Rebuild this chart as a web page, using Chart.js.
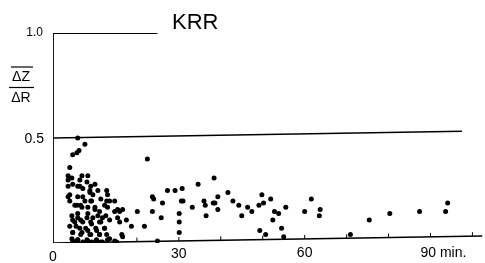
<!DOCTYPE html>
<html><head><meta charset="utf-8">
<script src="https://cdn.jsdelivr.net/npm/chart.js@4.4.0/dist/chart.umd.min.js"></script>
<style>html,body{margin:0;padding:0;background:#fff}#wrap{width:485px;height:263px}</style>
</head><body><div id="wrap"><canvas id="c" width="485" height="263"></canvas></div>
<script>
// scatter observations: time (min) and ΔZ/ΔR
const timeMin = [5.9,7.6,6.2,5.7,4.7,4.0,3.6,4.5,6.9,8.3,5.9,8.1,3.6,8.8,10.0,12.8,13.0,12.8,14.7,22.5,27.3,23.7,26.1,13.0,15.4,16.6,20.1,23.7,15.4,17.5,13.5,18.7,21.8,25.8,14.7,16.6,24.9,
 13.5,14.7,15.9,15.9,24.0,29.1,30.8,30.6,30.1,30.1,30.1,12.8,13.5,16.4,15.2,13.0,
 34.6,38.4,31.0,33.2,36.0,36.3,38.2,38.6,39.3,39.3,36.5,41.7,42.9,44.3,45.0,46.4,47.4,49.1,49.8,50.2,51.9,49.3,50.7,
 52.8,53.8,55.5,52.4,54.5,55.0,60.0,61.6,63.7,63.5,70.9,
 75.4,80.3,87.4,93.6,94.1,
 6.4,9.5,3.6,4.0,7.1,9.2,5.7,6.9,8.3,10.0,11.1,4.5,5.9,8.1,9.5,11.8,5.2,7.1,9.2,11.1,4.0,6.4,8.3,10.4,12.3,4.7,6.9,8.8,11.1,4.5,5.9,8.1,10.4,5.2,7.1,9.2,11.8,
 3.6,4.7,6.4,7.1,9.0,8.8,10.7,4.0,5.9,7.6,9.0,11.4,5.2,6.6,10.0,12.3,5.9,8.3,10.7,12.6,4.7,6.6,9.0,11.4,5.5,7.8,10.2,12.3,4.7,6.6,9.0,11.1,5.9,8.3,10.2,4.7,11.4];
const ratio = [0.50,0.47,0.44,0.43,0.42,0.36,0.32,0.31,0.32,0.32,0.27,0.29,0.27,0.25,0.28,0.25,0.23,0.20,0.20,0.40,0.25,0.22,0.19,0.17,0.16,0.16,0.15,0.15,0.12,0.11,0.11,0.08,0.08,0.12,0.01,0.03,0.01,
 0.20,0.15,0.15,0.10,0.21,0.25,0.26,0.20,0.14,0.10,0.05,0.04,0.02,0.04,0.005,0.015,
 0.28,0.31,0.20,0.17,0.20,0.18,0.19,0.19,0.22,0.16,0.13,0.24,0.20,0.18,0.13,0.17,0.15,0.18,0.23,0.19,0.21,0.06,0.04,
 0.15,0.14,0.17,0.11,0.07,0.03,0.15,0.21,0.16,0.13,0.04,
 0.11,0.14,0.15,0.15,0.19,
 0.27,0.23,0.22,0.20,0.22,0.20,0.18,0.17,0.17,0.16,0.15,0.13,0.12,0.12,0.12,0.12,0.10,0.10,0.09,0.10,0.08,0.07,0.06,0.06,0.07,0.05,0.05,0.04,0.04,0.02,0.015,0.015,0.015,0.005,0.005,0.005,0.005,
 0.30,0.28,0.30,0.26,0.27,0.24,0.25,0.23,0.22,0.20,0.20,0.21,0.18,0.18,0.17,0.18,0.14,0.14,0.13,0.13,0.11,0.11,0.10,0.10,0.08,0.07,0.07,0.07,0.05,0.04,0.04,0.04,0.015,0.01,0.01,0.01,0.005];
// frame / reference lines (as drawn, slightly skewed in the scan)
const topLineX = [0, 24.9], topLineY = [1.0, 1.0];
const halfLineX = [0, 97.5], halfLineY = [0.5, 0.532];
const baseLineX = [0, 102.4], baseLineY = [0, 0.033];
const yAxisX = [0, 0], yAxisY = [0, 1.0];
const xTickVals = [10,20,30,40,50,60,70,80,90,100];
const xLabelVals = [0,30,60,90];
const xLabels = ['0','30','60','90'];
const yLabelVals = [1.0, 0.5];
const yLabels = ['1.0','0.5'];

const pts = timeMin.map((x,i)=>({x:x,y:ratio[i]}));
const seg = (xs,ys)=>xs.map((x,i)=>({x:x,y:ys[i]}));
const lineDs = (d,w)=>({type:'line',data:d,borderColor:'#000',borderWidth:w,pointRadius:0,fill:false,tension:0});

const deco = {
  id:'deco',
  afterDatasetsDraw(chart){
    const c = chart.ctx, xs = chart.scales.x, ys = chart.scales.y;
    c.save();
    c.fillStyle='#000'; c.strokeStyle='#000'; c.lineWidth=1;
    // small inward ticks on the baseline
    xTickVals.forEach(v=>{
      const px = xs.getPixelForValue(v);
      const py = ys.getPixelForValue(baseLineY[1]*v/baseLineX[1]);
      c.beginPath(); c.moveTo(px,py); c.lineTo(px,py-4); c.stroke();
    });
    c.font='14px "Liberation Sans", Arial, sans-serif';
    c.textBaseline='middle';
    xLabelVals.forEach((v,i)=>{
      const px = xs.getPixelForValue(v);
      const py = ys.getPixelForValue(0)+ (v===0?14:12) - v*0.025;
      if(v===90){ c.textAlign='left'; c.fillText(xLabels[i]+' min.', px-10, py); }
      else { c.textAlign='center'; c.fillText(xLabels[i], px, py); }
    });
    c.textAlign='right';
    c.font='12px "Liberation Sans", Arial, sans-serif';
    c.fillText(yLabels[0], xs.getPixelForValue(0)-10, ys.getPixelForValue(yLabelVals[0]));
    c.font='14px "Liberation Sans", Arial, sans-serif';
    c.fillText(yLabels[1], xs.getPixelForValue(0)-9, ys.getPixelForValue(yLabelVals[1])+1);
    // y-axis title ΔZ / ΔR with overline
    c.textAlign='center';
    c.font='14px "Liberation Sans", Arial, sans-serif';
    c.fillText('\u0394Z', 21, 77);
    c.fillText('\u0394R', 21, 98);
    c.lineWidth=1.2;
    c.beginPath(); c.moveTo(11,67); c.lineTo(33,67); c.stroke();
    c.beginPath(); c.moveTo(9,87.5); c.lineTo(34,87.5); c.stroke();
    // title
    c.textAlign='left';
    c.font='22px "Liberation Sans", Arial, sans-serif';
    c.fillText('KRR', 172, 23);
    c.restore();
  }
};

new Chart(document.getElementById('c'),{
  type:'scatter',
  data:{datasets:[
    {data:pts,backgroundColor:'#000',borderColor:'#000',pointRadius:2.5,pointHoverRadius:2.5,borderWidth:0},
    lineDs(seg(topLineX,topLineY),1.8),
    lineDs(seg(halfLineX,halfLineY),1.6),
    lineDs(seg(baseLineX,baseLineY),1.6),
    lineDs(seg(yAxisX,yAxisY),1.8)
  ]},
  options:{
    responsive:false,animation:false,
    layout:{padding:{left:53,right:0,top:33,bottom:20}},
    plugins:{legend:{display:false},tooltip:{enabled:false}},
    scales:{
      x:{type:'linear',min:0,max:102.4,display:false},
      y:{type:'linear',min:0,max:1.0,display:false}
    },
    elements:{line:{borderCapStyle:'butt'}}
  },
  plugins:[deco]
});
</script></body></html>
